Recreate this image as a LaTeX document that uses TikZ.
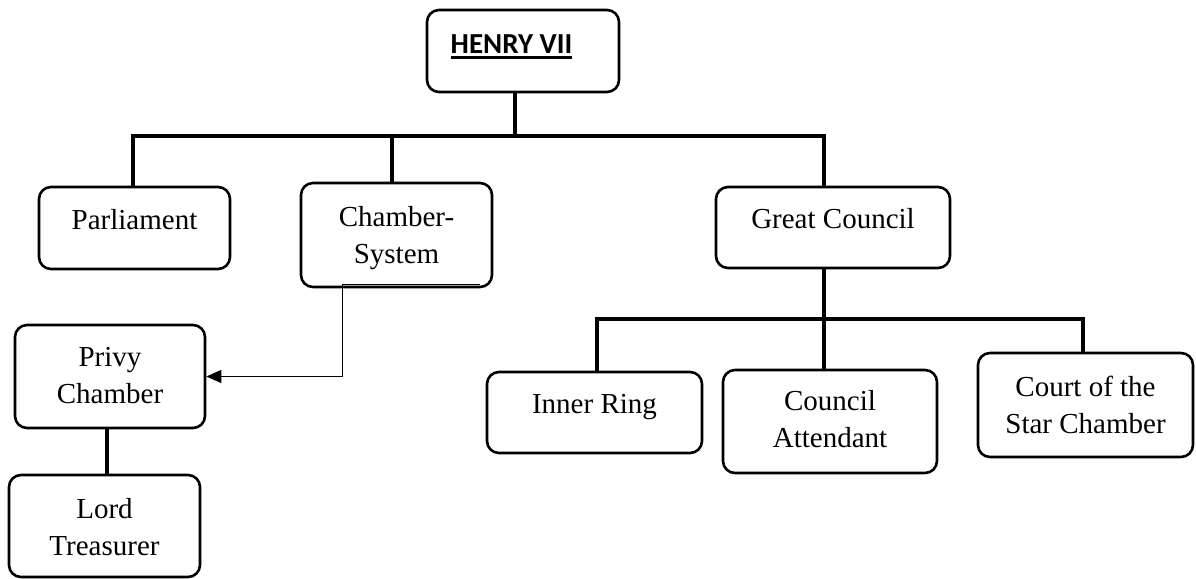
\documentclass[tikz,border=0pt]{standalone}
\usepackage{fontspec}
\setmainfont{Liberation Serif}
\newfontfamily\carl{Carlito}
\usetikzlibrary{arrows.meta}
\newsavebox\henrybox
\begin{document}
\begin{tikzpicture}[x=1pt,y=-1pt,
  box/.style={draw, line width=2.6pt, rounded corners=12pt, inner sep=0pt},
  conn/.style={line width=3.8pt},
  thinarrow/.style={line width=1pt, -{Triangle[length=15pt,width=13pt]}},
  lbl/.style={inner sep=0pt, align=center, anchor=base, font=\fontsize{29}{37}\selectfont}]
\useasboundingbox (0,0) rectangle (1196,578);
% boxes
\node[box, minimum width=192pt, minimum height=82pt]  (henry) at (523,51) {};
\node[box, minimum width=191pt, minimum height=82pt]  (parl)  at (134.5,228) {};
\node[box, minimum width=191pt, minimum height=104pt] (cham)  at (396.5,235) {};
\node[box, minimum width=234pt, minimum height=81pt]  (gc)    at (833,227.5) {};
\node[box, minimum width=190pt, minimum height=103pt] (privy) at (110,376.5) {};
\node[box, minimum width=191pt, minimum height=102pt] (lord)  at (104.5,526) {};
\node[box, minimum width=215pt, minimum height=81pt]  (inner) at (594.5,412.5) {};
\node[box, minimum width=214pt, minimum height=103pt] (att)   at (830,421.5) {};
\node[box, minimum width=215pt, minimum height=104pt] (court) at (1085.5,405) {};
% texts (anchor base = baseline of the last line)
\node[lbl] (henryT) at (511.5,53) {\sbox\henrybox{\carl\bfseries\fontsize{29}{34}\selectfont HENRY VII}\rlap{\usebox\henrybox}\rule[-5.5pt]{\wd\henrybox}{3pt}};
\node[lbl] (parlT)  at (134.5,229) {Parliament};
\node[lbl] (chamT)  at (396.5,263) {Chamber-\\System};
\node[lbl] (gcT)    at (833,228)   {Great Council};
\node[lbl] (privyT) at (110,403)   {Privy\\Chamber};
\node[lbl] (lordT)  at (104.5,555) {Lord\\Treasurer};
\node[lbl] (innerT) at (594.5,413) {Inner Ring};
\node[lbl] (attT)   at (830,447)   {Council\\Attendant};
\node[lbl] (courtT) at (1085.5,433) {Court of the\\Star Chamber};
% connectors
\coordinate (hB) at (515,136);
\coordinate (pL) at (133,136);
\coordinate (cM) at (392,136);
\coordinate (gR) at (824,136);
\draw[conn] (henry.south -| hB) -- (hB);
\draw[conn] (parl.north -| pL) -- (pL) -- (gR) -- (gc.north -| gR);
\draw[conn] (cM) -- (cham.north -| cM);
\coordinate (lM) at (824,319);
\coordinate (lL) at (597,319);
\coordinate (lR) at (1083,319);
\draw[conn] (gc.south -| lM) -- (lM);
\draw[conn] (inner.north -| lL) -- (lL) -- (lR) -- (court.north -| lR);
\draw[conn] (lM) -- (att.north -| lM);
\coordinate (pq) at (107,450);
\draw[conn] (privy.south -| pq) -- (lord.north -| pq);
\coordinate (a1) at (480,284);
\coordinate (a2) at (342,284);
\draw[thinarrow] (a1) -- (a2) |- (privy.east);
\end{tikzpicture}
\end{document}
